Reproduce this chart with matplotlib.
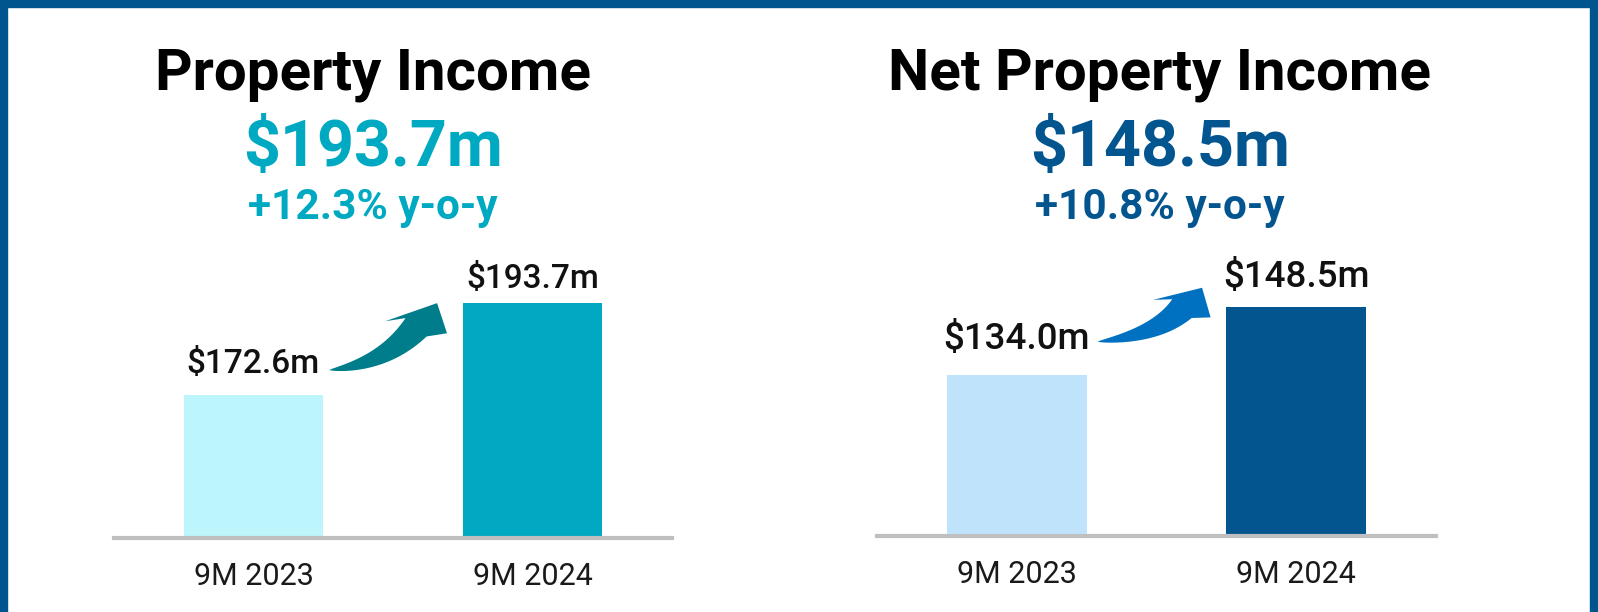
import matplotlib
matplotlib.use('Agg')
import matplotlib.pyplot as plt
from matplotlib.patches import Rectangle, Polygon
import numpy as np

plt.rcParams['font.family'] = ['Roboto', 'DejaVu Sans']

# ---- data ----
periods = ['9M 2023', '9M 2024']
pi_values = [172.6, 193.7]
npi_values = [134.0, 148.5]
pi_labels = ['$172.6m', '$193.7m']
npi_labels = ['$134.0m', '$148.5m']
titles = ['Property Income', 'Net Property Income']
headlines = ['$193.7m', '$148.5m']
growth = ['+12.3% y-o-y', '+10.8% y-o-y']

W, H = 1598, 612
fig = plt.figure(figsize=(W / 100, H / 100), dpi=100)
fig.patch.set_facecolor('white')


def fx(px):
    return px / W


def fy(py):
    return 1 - py / H


panels = [
    dict(vals=pi_values, labels=pi_labels, title=titles[0], head=headlines[0], sub=growth[0],
         colors=['#BDF5FD', '#00A8C1'], accent='#00A9C2', arrow='#007D8B',
         left=114, right=672, base=538, top=240, ylim0=139.9, scale=4.374,
         label_off=[15.8, 10.4], label_fs=24, cx=373,
         tail=(0.272, 178.3), tip=(0.658, 193.6), head_len=32, head_w=63, neck_w=28,
         a0=6, a1=49, base_ang=-11),
    dict(vals=npi_values, labels=npi_labels, title=titles[1], head=headlines[1], sub=growth[1],
         colors=['#BEE3FA', '#02558F'], accent='#03558F', arrow='#0070C0',
         left=877, right=1436, base=536, top=240, ylim0=99.67, scale=4.69,
         label_off=[18.4, 14.6], label_fs=26.5, cx=1160,
         tail=(0.29, 141.1), tip=(0.663, 152.6), head_len=29, head_w=60, neck_w=27,
         a0=6, a1=46, base_ang=-17),
]


def curved_arrow(ax, tail, tip, color, head_len, head_w, neck_w, a0, a1, base_ang):
    T = ax.transData.transform(tail)
    A = ax.transData.transform(tip)
    d1 = np.array([np.cos(np.radians(a1)), np.sin(np.radians(a1))])
    d0 = np.array([np.cos(np.radians(a0)), np.sin(np.radians(a0))])
    N = A - d1 * head_len
    M = np.column_stack([d0, d1])
    s, u = np.linalg.solve(M, N - T)
    C = T + s * d0
    t = np.linspace(0, 1, 80)
    P = ((1 - t) ** 2)[:, None] * T + (2 * (1 - t) * t)[:, None] * C + (t ** 2)[:, None] * N
    D = (2 * (1 - t))[:, None] * (C - T) + (2 * t)[:, None] * (N - C)
    D /= np.linalg.norm(D, axis=1)[:, None]
    nrm = np.column_stack([-D[:, 1], D[:, 0]])
    w = neck_w / 2 * t ** 0.75
    upper = P + nrm * w[:, None]
    lower = P - nrm * w[:, None]
    b = np.array([np.cos(np.radians(base_ang)), np.sin(np.radians(base_ang))])
    head = np.array([N - b * head_w / 2, A, N + b * head_w / 2])
    poly = np.vstack([upper, head, lower[::-1]])
    poly = fig.transFigure.inverted().transform(poly)
    fig.add_artist(Polygon(poly, closed=True, facecolor=color, edgecolor='none',
                           transform=fig.transFigure, zorder=5))


for p in panels:
    ax = fig.add_axes([fx(p['left']), fy(p['base']), fx(p['right']) - fx(p['left']),
                       (p['base'] - p['top']) / H])
    ax.set_xlim(-0.5, 1.5)
    ax.set_ylim(p['ylim0'], p['ylim0'] + (p['base'] - p['top']) / p['scale'])
    x = np.arange(len(periods))
    ax.bar(x, p['vals'], width=0.5, color=p['colors'], zorder=2)
    for sp in ['top', 'left', 'right']:
        ax.spines[sp].set_visible(False)
    ax.spines['bottom'].set_color('#BFBFBF')
    ax.spines['bottom'].set_linewidth(3)
    ax.spines['bottom'].set_zorder(3)
    ax.set_yticks([])
    ax.set_xticks(x, periods, fontsize=22, color='#1A1A1A')
    ax.tick_params(axis='x', length=0, pad=17)
    ax.patch.set_alpha(0)
    for i, (v, lab) in enumerate(zip(p['vals'], p['labels'])):
        ax.annotate(lab, (i, v), xytext=(0, p['label_off'][i]), textcoords='offset points',
                    ha='center', va='baseline', fontsize=p['label_fs'], fontweight='medium',
                    color='#111111')
    curved_arrow(ax, p['tail'], p['tip'], p['arrow'], p['head_len'], p['head_w'],
                 p['neck_w'], p['a0'], p['a1'], p['base_ang'])
    fig.text(fx(p['cx']), fy(89), p['title'], ha='center', va='baseline',
             fontsize=42, fontweight='bold', color='black')
    fig.text(fx(p['cx']), fy(166), p['head'], ha='center', va='baseline',
             fontsize=46.5, fontweight='bold', color=p['accent'])
    fig.text(fx(p['cx']), fy(219), p['sub'], ha='center', va='baseline',
             fontsize=30.5, fontweight='bold', color=p['accent'])

# frame (open at the bottom)
border = '#00558F'
fig.add_artist(Rectangle((0, 0), fx(7), 1, transform=fig.transFigure, color=border, zorder=10))
fig.add_artist(Rectangle((fx(1590), 0), fx(8), 1, transform=fig.transFigure, color=border, zorder=10))
fig.add_artist(Rectangle((0, fy(7)), 1, 7 / H, transform=fig.transFigure, color=border, zorder=10))

fig.savefig('out.png', dpi=100, facecolor='white')
